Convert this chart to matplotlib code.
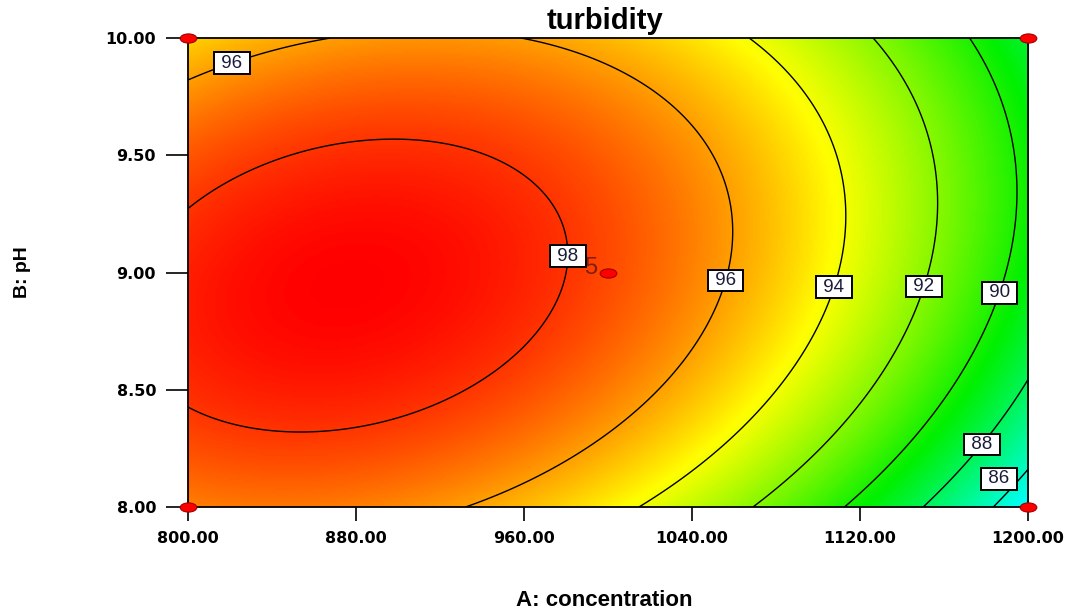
import numpy as np
import matplotlib
matplotlib.use('Agg')
import matplotlib.pyplot as plt
from matplotlib.colors import LinearSegmentedColormap, Normalize
from matplotlib.path import Path

# contour crossings: concentration, pH, turbidity level
conc_pts = [981, 1056.7, 1109.5, 1152.4, 1189,
            866.7, 1068.6, 1126, 1172.9, 996.2,
            1048.6, 1107, 1153, 1192.9,
            1048.6, 1101.9, 1144.8, 1181.9,
            930.9, 962.6, 1015, 1069, 1112, 1150, 1183,
            800, 800, 800, 897.6, 853, 1200, 1200]
ph_pts = [9.0, 9.0, 9.0, 9.0, 9.0,
          10.0, 10.0, 10.0, 10.0, 9.898,
          9.522, 9.522, 9.522, 9.522,
          8.797, 8.797, 8.797, 8.797,
          8.0, 8.115, 8.0, 8.0, 8.0, 8.0, 8.0,
          9.817, 9.267, 8.42, 9.574, 8.316, 8.542, 8.153]
level_pts = [98, 96, 94, 92, 90,
             96, 94, 92, 90, 96,
             96, 94, 92, 90,
             96, 94, 92, 90,
             96, 96, 94, 92, 90, 88, 86,
             96, 98, 98, 98, 98, 88, 86]

contour_levels = [86, 88, 90, 92, 94, 96, 98]

# design points (factorial corners + centre point with 5 replicates)
design_conc = [800, 800, 1200, 1200, 1000]
design_ph = [8.0, 10.0, 8.0, 10.0, 9.0]
center_reps = 5

x_ticks = [800, 880, 960, 1040, 1120, 1200]
y_ticks = [8.0, 8.5, 9.0, 9.5, 10.0]


def quad_terms(conc, ph):
    a = (np.asarray(conc, float) - 1000) / 200
    b = np.asarray(ph, float) - 9
    return np.stack([np.ones_like(a), a, b, a * b, a ** 2, b ** 2], axis=-1)


# fit a quadratic response surface through the read contour points
coef, *_ = np.linalg.lstsq(quad_terms(conc_pts, ph_pts), np.array(level_pts, float), rcond=None)

A, B = np.meshgrid(np.linspace(800, 1200, 400), np.linspace(8, 10, 240))
Z = quad_terms(A, B) @ coef

plt.rcParams['font.family'] = ['Liberation Sans', 'DejaVu Sans']

fig = plt.figure(figsize=(10.72, 6.11), dpi=100)
ax = fig.add_axes([0.1754, 0.1702, 0.7836, 0.7676])

cmap = LinearSegmentedColormap.from_list(
    'de', [(0.0, '#00ffff'), (4.5 / 14, '#00f000'), (9.2 / 14, '#ffff00'), (1.0, '#ff0000')])
ax.imshow(Z, origin='lower', extent=[800, 1200, 8, 10], aspect='auto',
          cmap=cmap, norm=Normalize(85, 99), interpolation='bilinear')

cs = ax.contour(A, B, Z, levels=contour_levels, colors='black', linewidths=1.0)
label_pos = [(819, 9.94), (981, 9.07), (1054, 8.97), (1105, 8.945),
             (1149, 8.945), (1184, 8.92), (1175, 8.29), (1189, 8.115)]
labels = ax.clabel(cs, manual=label_pos, inline=False, fmt=' %d ', fontsize=13.5)
for t in labels:
    t.set_rotation(0)
    t.set_color('#1a1a3a')
    t.set_bbox(dict(boxstyle='square,pad=0.12', facecolor='white',
                    edgecolor='black', linewidth=1.4))
    if t.get_text().strip() == '86':
        # keep the corner label inside the frame
        t.set_position((1186, 8.12))

ell = Path.unit_circle()
ell_marker = Path(ell.vertices * [1, 0.55], ell.codes)
ax.plot(design_conc, design_ph, linestyle='none', marker=ell_marker, markersize=12,
        markerfacecolor='#ff0000', markeredgecolor='#a00000', markeredgewidth=0.8,
        clip_on=False, zorder=5)
ax.annotate(str(center_reps), (design_conc[-1], design_ph[-1]), xytext=(-8, 3.5),
            textcoords='offset points', ha='right', va='center',
            fontsize=17, color='#7f1f10')

ax.set_xlim(800, 1200)
ax.set_ylim(8, 10)
ax.set_xticks(x_ticks)
ax.set_xticklabels([f'{v:.2f}' for v in x_ticks], fontweight='bold', family='DejaVu Sans')
ax.set_yticks(y_ticks)
ax.set_yticklabels([f'{v:.2f}' for v in y_ticks], fontweight='bold', family='DejaVu Sans')
ax.tick_params(axis='x', direction='out', length=10, width=1.2, pad=7, labelsize=11.5)
ax.tick_params(axis='y', direction='out', length=16, width=1.2, pad=7, labelsize=11.5)
for s in ax.spines.values():
    s.set_linewidth(1.3)

fig.text(0.564, 0.966, 'turbidity', ha='center', va='center', fontsize=21, fontweight='bold')
fig.text(0.564, 0.018, 'A: concentration', ha='center', va='center', fontsize=16, fontweight='bold')
fig.text(0.021, 0.555, 'B: pH', ha='center', va='center', rotation=90, fontsize=14, fontweight='bold')

fig.savefig('out.png', dpi=100)
